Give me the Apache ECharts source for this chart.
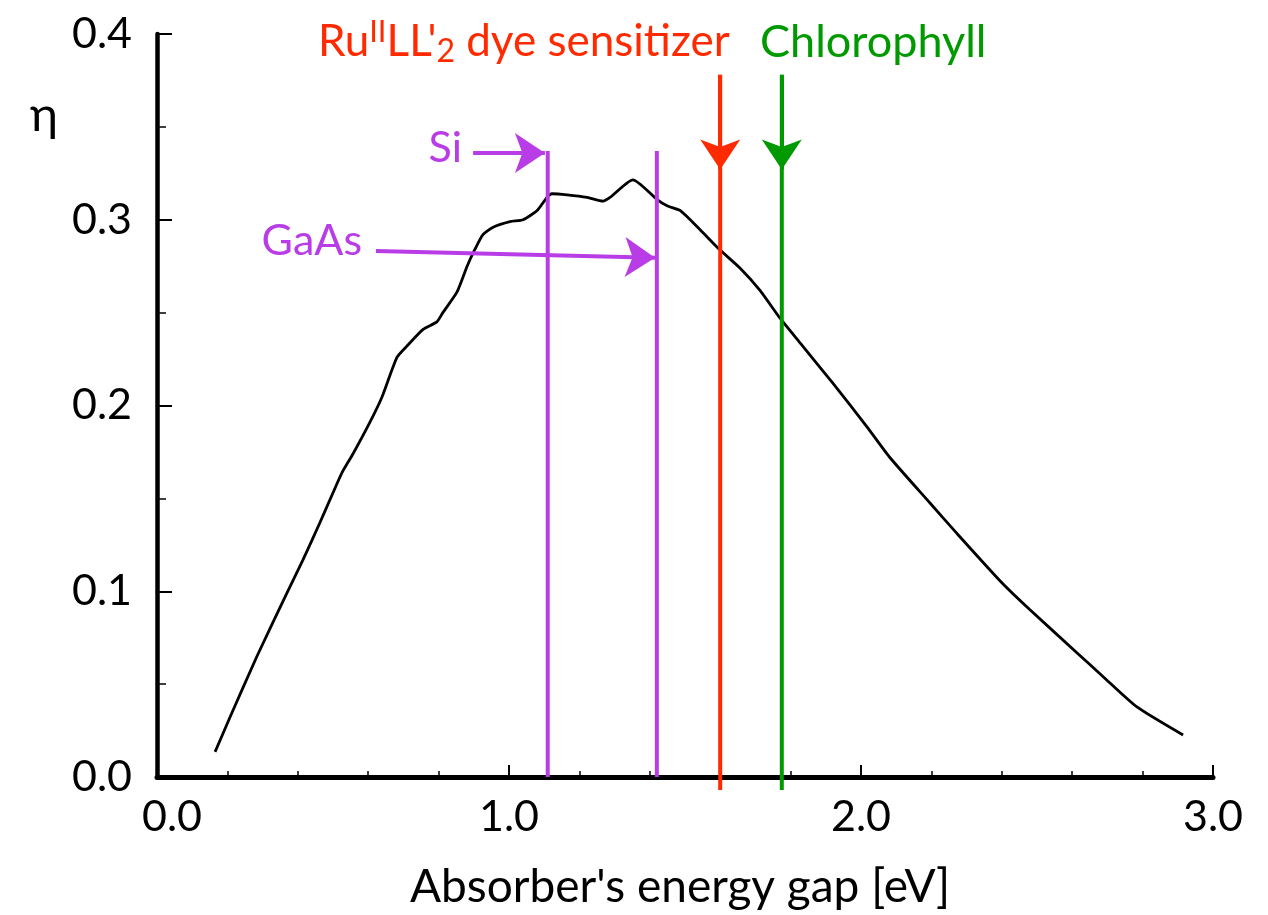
<!DOCTYPE html>
<html>
<head>
<meta charset="utf-8">
<script src="https://cdn.jsdelivr.net/npm/echarts@6/dist/echarts.min.js"></script>
<style>
html,body{margin:0;padding:0;background:#fff;}
#chart{width:1268px;height:915px;}
</style>
</head>
<body>
<div id="chart"></div>
<script>
// Absorber energy gap (eV) and efficiency eta
const energy = [0.165, 0.207, 0.284, 0.369, 0.415, 0.463, 0.500, 0.526, 0.557, 0.605, 0.638, 0.682, 0.710, 0.756, 0.795, 0.812, 0.852, 0.881, 0.903, 0.926, 0.955, 1.003, 1.040, 1.080, 1.108, 1.122, 1.165, 1.222, 1.267, 1.287, 1.352, 1.420, 1.449, 1.486, 1.543, 1.599, 1.656, 1.713, 1.770, 1.827, 1.920, 2.017, 2.082, 2.196, 2.273, 2.403, 2.480, 2.614, 2.688, 2.784, 2.915];
const efficiency = [0.0135, 0.032, 0.065, 0.099, 0.117, 0.137, 0.153, 0.164, 0.174, 0.191, 0.204, 0.226, 0.232, 0.241, 0.245, 0.250, 0.261, 0.275, 0.284, 0.292, 0.296, 0.299, 0.300, 0.305, 0.312, 0.314, 0.3134, 0.312, 0.310, 0.312, 0.3215, 0.311, 0.3075, 0.305, 0.2946, 0.2838, 0.274, 0.262, 0.247, 0.2337, 0.212, 0.1885, 0.172, 0.1475, 0.131, 0.104, 0.090, 0.0668, 0.054, 0.0377, 0.0226];

// Band gaps of the marked absorbers (eV)
const materialNames = ['Si', 'GaAs'];
const materialGaps = [1.11, 1.42];
const materialLineTop = 0.337;
const dyeNames = ['Ru(II)LL\'2 dye sensitizer', 'Chlorophyll'];
const dyeGaps = [1.60, 1.775];
const dyeLineTop = 0.378;
const dyeArrowTip = 0.327;
// Arrows from material labels: [startE, startEta, tipE, tipEta]
const siArrow = [0.898, 0.336, 1.102, 0.336];
const gaasArrow = [0.622, 0.2832, 1.415, 0.2795];

const PURPLE = '#b93de6', RED = '#ff2a00', GREEN = '#009a00';
const FONT = 'Lato';

const chart = echarts.init(document.getElementById('chart'));

const curve = energy.map((e, i) => [e, efficiency[i]]);

const series = [
  {
    type: 'line', data: curve, showSymbol: false, symbol: 'none',
    lineStyle: {color: '#000', width: 2.8}, smooth: 0.2, z: 3
  }
];
materialGaps.forEach((g, i) => {
  series.push({
    type: 'line', name: materialNames[i], data: [[g, 0], [g, materialLineTop]],
    symbol: 'none', lineStyle: {color: PURPLE, width: 4}, z: 4
  });
});
dyeGaps.forEach((g, i) => {
  series.push({
    type: 'line', name: dyeNames[i], data: [[g, -0.007], [g, dyeLineTop]],
    symbol: 'none', clip: false, lineStyle: {color: i === 0 ? RED : GREEN, width: 4}, z: 4
  });
});
series.push({
  type: 'lines', coordinateSystem: 'cartesian2d', clip: false, z: 5,
  symbol: ['none', 'arrow'], symbolSize: 30,
  data: [
    {coords: [[dyeGaps[0], dyeLineTop], [dyeGaps[0], dyeArrowTip]], lineStyle: {color: RED, width: 4}},
    {coords: [[dyeGaps[1], dyeLineTop], [dyeGaps[1], dyeArrowTip]], lineStyle: {color: GREEN, width: 4}},
    {coords: [[siArrow[0], siArrow[1]], [siArrow[2], siArrow[3]]], lineStyle: {color: PURPLE, width: 4}},
    {coords: [[gaasArrow[0], gaasArrow[1]], [gaasArrow[2], gaasArrow[3]]], lineStyle: {color: PURPLE, width: 4}}
  ],
  lineStyle: {opacity: 1, curveness: 0}
});

const option = {
  animation: false,
  backgroundColor: '#fff',
  grid: {left: 157, right: 55, top: 34, bottom: 138},
  xAxis: {
    type: 'value', min: 0, max: 3, interval: 1,
    axisLine: {lineStyle: {color: '#000', width: 5}},
    axisTick: {inside: true, length: 12, lineStyle: {color: '#000', width: 2}},
    minorTick: {show: true, splitNumber: 5, length: 6, lineStyle: {color: '#000', width: 1.5}},
    splitLine: {show: false},
    axisLabel: {
      color: '#000', fontFamily: FONT, fontSize: 43, margin: 19,
      formatter: v => v === 0 ? '{z|0.0}' : v.toFixed(1),
      rich: {z: {fontFamily: FONT, fontSize: 43, color: '#000', padding: [0, 0, 0, 30]}}
    }
  },
  yAxis: {
    type: 'value', min: 0, max: 0.4, interval: 0.1,
    axisLine: {lineStyle: {color: '#000', width: 4.5}},
    axisTick: {inside: true, length: 15, lineStyle: {color: '#000', width: 2}},
    minorTick: {show: true, splitNumber: 2, length: 9, lineStyle: {color: '#000', width: 1.5}},
    splitLine: {show: false},
    axisLabel: {color: '#000', fontFamily: FONT, fontSize: 43, margin: 25, formatter: v => v.toFixed(1)}
  },
  graphic: [
    {type: 'text', left: 30, top: 92, style: {text: 'η', font: '48px ' + FONT, fill: '#000'}},
    {type: 'text', style: {x: 680, y: 887, text: "Absorber's energy gap [eV]", font: '46px ' + FONT, fill: '#000', align: 'center', verticalAlign: 'middle'}},
    {type: 'text', style: {x: 318, y: 42, text: "Ru{sup|II}LL'{sub|2} dye sensitizer", font: '44px ' + FONT, fill: RED, align: 'left', verticalAlign: 'middle',
      rich: {sup: {fontSize: 31, fontFamily: FONT, fill: RED, verticalAlign: 'top', lineHeight: 52},
             sub: {fontSize: 32, fontFamily: FONT, fill: RED, verticalAlign: 'bottom', lineHeight: 36, padding: [18, 0, 0, 0]}}}},
    {type: 'text', style: {x: 760, y: 42, text: 'Chlorophyll', font: '45px ' + FONT, fill: GREEN, align: 'left', verticalAlign: 'middle'}},
    {type: 'text', style: {x: 462, y: 148, text: materialNames[0], font: '43px ' + FONT, fill: PURPLE, align: 'right', verticalAlign: 'middle'}},
    {type: 'text', style: {x: 362, y: 241, text: materialNames[1], font: '43px ' + FONT, fill: PURPLE, align: 'right', verticalAlign: 'middle'}}
  ],
  series: series
};
chart.setOption(option);
</script>
</body>
</html>
